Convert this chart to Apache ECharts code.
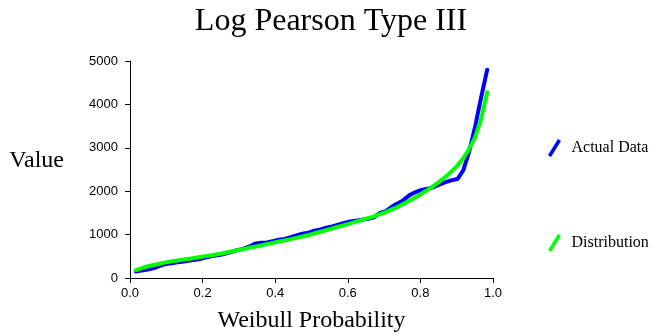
<!DOCTYPE html>
<html>
<head>
<meta charset="utf-8">
<script src="https://cdn.jsdelivr.net/npm/echarts@6/dist/echarts.min.js"></script>
<style>
  html, body { margin: 0; padding: 0; background: #fff; }
  #chart { width: 662px; height: 336px; }
</style>
</head>
<body>
<div id="chart"></div>
<script>
// Weibull plotting positions i/(n+1), n = 60
var probability = [
  0.016, 0.033, 0.049, 0.066, 0.082, 0.098, 0.115, 0.131, 0.148, 0.164,
  0.180, 0.197, 0.213, 0.230, 0.246, 0.262, 0.279, 0.295, 0.311, 0.328,
  0.344, 0.361, 0.377, 0.393, 0.410, 0.426, 0.443, 0.459, 0.475, 0.492,
  0.508, 0.525, 0.541, 0.557, 0.574, 0.590, 0.607, 0.623, 0.639, 0.656,
  0.672, 0.689, 0.705, 0.721, 0.738, 0.754, 0.770, 0.787, 0.803, 0.820,
  0.836, 0.852, 0.869, 0.885, 0.902, 0.918, 0.934, 0.951, 0.967, 0.984
];

var actualData = [
  150, 175, 195, 230, 280, 320, 340, 360, 380, 400,
  420, 445, 480, 510, 530, 560, 600, 640, 670, 720,
  790, 810, 820, 850, 880, 900, 940, 980, 1020, 1045,
  1090, 1120, 1160, 1190, 1230, 1270, 1300, 1320, 1340, 1365,
  1400, 1500, 1540, 1640, 1720, 1800, 1910, 1980, 2030, 2060,
  2090, 2150, 2210, 2250, 2280, 2480, 2900, 3500, 4150, 4800
];

var distribution = [
  180, 230, 270, 300, 330, 360, 385, 405, 425, 445,
  465, 490, 510, 530, 555, 580, 610, 640, 665, 695,
  720, 750, 780, 810, 840, 865, 895, 925, 955, 990,
  1030, 1065, 1100, 1140, 1180, 1220, 1260, 1300, 1340, 1380,
  1420, 1470, 1520, 1580, 1640, 1710, 1780, 1860, 1940, 2030,
  2120, 2220, 2330, 2450, 2590, 2760, 2970, 3250, 3650, 4280
];

var seriesNames = ['Actual Data', 'Distribution'];

function pairs(xs, ys) {
  return xs.map(function (x, i) { return [x, ys[i]]; });
}

var serif = '"Liberation Serif", "DejaVu Serif", serif';
var sans = '"Liberation Sans", Arial, sans-serif';
var slash = 'path://M0,16 L10,0 L13,2 L3,18 Z';

var chart = echarts.init(document.getElementById('chart'), null, {renderer: 'canvas'});
var option = {
  animation: false,
  backgroundColor: '#fff',
  title: {
    text: 'Log Pearson Type III',
    left: 'center',
    top: 6,
    padding: 0,
    textStyle: { fontFamily: serif, fontSize: 32, fontWeight: 'normal', color: '#000' }
  },
  grid: { left: 130, right: 169, top: 61, bottom: 58, containLabel: false, outerBoundsMode: 'none' },
  legend: {
    orient: 'vertical',
    left: 548,
    top: 139,
    padding: 0,
    itemGap: 77,
    itemWidth: 14,
    itemHeight: 18,
    icon: slash,
    data: seriesNames,
    textStyle: { fontFamily: serif, fontSize: 16, color: '#000', padding: [0, 0, 0, 5] }
  },
  xAxis: {
    type: 'value',
    min: 0,
    max: 1,
    interval: 0.2,
    name: 'Weibull Probability',
    nameLocation: 'middle',
    nameGap: 31,
    nameTextStyle: { fontFamily: serif, fontSize: 24, color: '#000' },
    axisLine: { lineStyle: { color: '#000', width: 1 } },
    axisTick: { length: 5, lineStyle: { color: '#000' } },
    axisLabel: {
      margin: 9,
      fontFamily: sans,
      fontSize: 13,
      color: '#000',
      formatter: function (v) { return v.toFixed(1); }
    },
    splitLine: { show: false }
  },
  yAxis: {
    type: 'value',
    min: 0,
    max: 5000,
    interval: 1000,
    name: 'Value',
    nameLocation: 'middle',
    nameRotate: 0,
    nameGap: 66,
    nameTextStyle: { fontFamily: serif, fontSize: 24, color: '#000', verticalAlign: 'bottom', lineHeight: 18 },
    axisLine: { show: true, lineStyle: { color: '#000', width: 1 } },
    axisTick: { show: true, length: 5, lineStyle: { color: '#000' } },
    axisLabel: {
      margin: 12,
      fontFamily: sans,
      fontSize: 13,
      color: '#000',
      formatter: function (v) { return String(v); }
    },
    splitLine: { show: false }
  },
  series: [
    {
      name: seriesNames[0],
      type: 'line',
      data: pairs(probability, actualData),
      showSymbol: false,
      symbol: 'none',
      color: '#0000ff',
      lineStyle: { width: 4, color: '#0000ff', cap: 'round', join: 'round' },
      itemStyle: { color: '#0000ff' }
    },
    {
      name: seriesNames[1],
      type: 'line',
      data: pairs(probability, distribution),
      showSymbol: false,
      symbol: 'none',
      color: '#00ff00',
      lineStyle: { width: 4, color: '#00ff00', cap: 'round', join: 'round' },
      itemStyle: { color: '#00ff00' }
    }
  ]
};
chart.setOption(option);
</script>
</body>
</html>
